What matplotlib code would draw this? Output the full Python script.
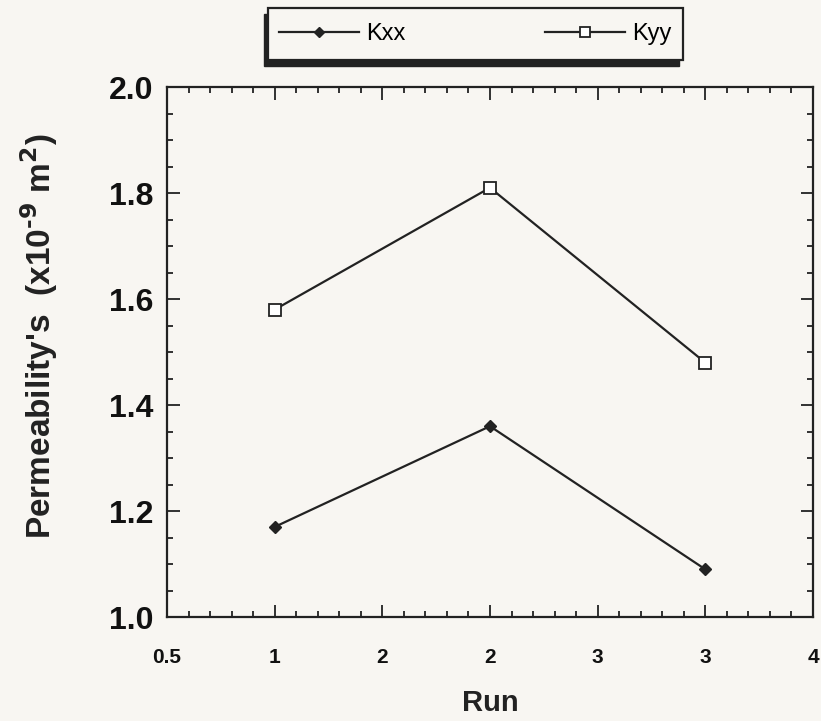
import numpy as np
import matplotlib.pyplot as plt
from matplotlib.patches import Rectangle
from matplotlib.ticker import MultipleLocator, FixedLocator, FixedFormatter

plt.rcParams.update({'font.family': ['Liberation Sans', 'DejaVu Sans']})

run = [1, 2, 3]
kxx = [1.17, 1.36, 1.09]
kyy = [1.58, 1.81, 1.48]
x_ticks = [0.5, 1.0, 1.5, 2.0, 2.5, 3.0, 3.5]
x_ticklabels = ['0.5', '1', '2', '2', '3', '3', '4']
y_ticks = [1.0, 1.2, 1.4, 1.6, 1.8, 2.0]

bg = '#f8f6f2'
ink = '#222222'

fig = plt.figure(figsize=(8.21, 7.21), dpi=100, facecolor=bg)
ax = fig.add_axes([0.2034, 0.1442, 0.7868, 0.7351], facecolor=bg)

l1, = ax.plot(run, kxx, color=ink, lw=1.6, marker='D', ms=6.5,
              mfc=ink, mec=ink, label='Kxx')
l2, = ax.plot(run, kyy, color=ink, lw=1.6, marker='s', ms=9,
              mfc='white', mec=ink, mew=1.3, label='Kyy')

ax.set_xlim(0.5, 3.5)
ax.set_ylim(1.0, 2.0)
ax.xaxis.set_major_locator(FixedLocator(x_ticks))
ax.xaxis.set_major_formatter(FixedFormatter(x_ticklabels))
ax.xaxis.set_minor_locator(MultipleLocator(0.1))
ax.yaxis.set_major_locator(FixedLocator(y_ticks))
ax.yaxis.set_minor_locator(MultipleLocator(0.05))
ax.yaxis.set_major_formatter(plt.FormatStrFormatter('%.1f'))

ax.tick_params(which='both', direction='in', top=True, right=True,
               color=ink, width=1.3)
ax.tick_params(which='major', length=9)
ax.tick_params(axis='x', which='major', pad=22, labelsize=15)
ax.tick_params(axis='y', which='major', pad=10, labelsize=23)
ax.tick_params(which='minor', length=4.5)
for lab in ax.get_xticklabels() + ax.get_yticklabels():
    lab.set_fontweight('bold')
    lab.set_color('#111111')
for sp in ax.spines.values():
    sp.set_linewidth(1.6)
    sp.set_color(ink)

ax.set_xlabel('Run', fontsize=21, fontweight='bold', color=ink, labelpad=16)
ax.set_ylabel("Permeability's  (x10$^{\\mathbf{\u2010}\\mathbf{9}}$ m$^{\\mathbf{2}}$)",
              fontsize=24, fontweight='bold', color=ink)
ax.yaxis.set_label_coords(-0.165, 0.53)

# legend box with shadow
bx, by, bw, bh = 268 / 821, 1 - 60 / 721, 415 / 821, 52 / 721
fig.patches.append(Rectangle((bx - 4 / 821, by - 6 / 721), bw, bh,
                             transform=fig.transFigure, facecolor=ink,
                             edgecolor=ink, zorder=1))
fig.patches.append(Rectangle((bx, by), bw, bh, transform=fig.transFigure,
                             facecolor=bg, edgecolor=ink, lw=1.6, zorder=2))
fig.legend(handles=[l1, l2], loc='center', ncol=2, frameon=False,
           bbox_to_anchor=(bx + bw / 2, by + bh / 2), fontsize=17,
           handlelength=3.4, columnspacing=5.9, handletextpad=0.3,
           markerscale=0.75)

fig.savefig('out.png', dpi=100, facecolor=bg)
